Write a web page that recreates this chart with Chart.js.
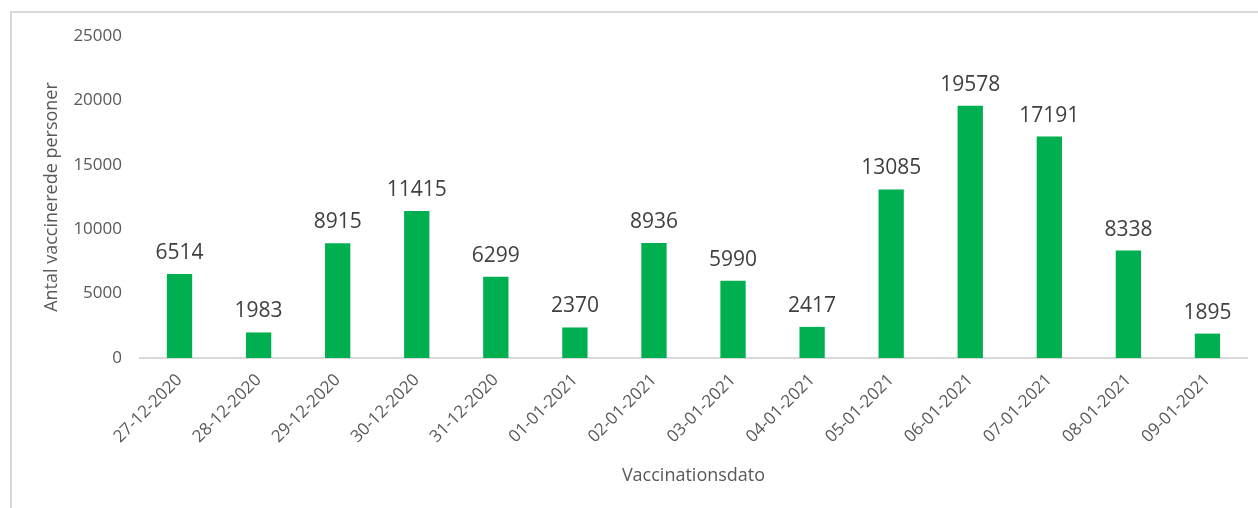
<!DOCTYPE html>
<html>
<head>
<meta charset="utf-8">
<script src="https://cdn.jsdelivr.net/npm/chart.js@4/dist/chart.umd.min.js"></script>
<style>
  html, body { margin: 0; padding: 0; background: #fff; }
  #wrap { width: 1258px; height: 508px; }
</style>
</head>
<body>
<div id="wrap"><canvas id="chart" width="1258" height="508"></canvas></div>
<script>
  const dates = ['27-12-2020', '28-12-2020', '29-12-2020', '30-12-2020', '31-12-2020',
    '01-01-2021', '02-01-2021', '03-01-2021', '04-01-2021', '05-01-2021',
    '06-01-2021', '07-01-2021', '08-01-2021', '09-01-2021'];
  const vaccinated = [6514, 1983, 8915, 11415, 6299, 2370, 8936, 5990, 2417, 13085, 19578, 17191, 8338, 1895];
  const yTicks = [0, 5000, 10000, 15000, 20000, 25000];
  const yTitle = 'Antal vaccinerede personer';
  const xTitle = 'Vaccinationsdato';

  const fontFamily = '"Open Sans", "Liberation Sans", sans-serif';

  // frame lines like the exported figure (left + top only)
  const framePlugin = {
    id: 'frame',
    beforeDraw(chart) {
      const ctx = chart.ctx;
      ctx.save();
      ctx.strokeStyle = '#d9d9d9';
      ctx.lineWidth = 2;
      ctx.beginPath();
      ctx.moveTo(11, 508);
      ctx.lineTo(11, 12);
      ctx.lineTo(1258, 12);
      ctx.stroke();
      ctx.restore();
    }
  };

  // value labels above each bar
  const valueLabels = {
    id: 'valueLabels',
    afterDatasetsDraw(chart) {
      const ctx = chart.ctx;
      const meta = chart.getDatasetMeta(0);
      ctx.save();
      ctx.font = '21px ' + fontFamily;
      ctx.fillStyle = '#404040';
      ctx.textAlign = 'center';
      ctx.textBaseline = 'alphabetic';
      meta.data.forEach((bar, i) => {
        ctx.fillText(String(vaccinated[i]), bar.x, bar.y - 15);
      });
      ctx.restore();
    }
  };

  new Chart(document.getElementById('chart'), {
    type: 'bar',
    data: {
      labels: dates,
      datasets: [{
        data: vaccinated,
        backgroundColor: '#00b050',
        borderWidth: 0,
        categoryPercentage: 1,
        barPercentage: 0.32
      }]
    },
    options: {
      responsive: false,
      animation: false,
      layout: { padding: { left: 38, right: 11, top: 36, bottom: 0 } },
      plugins: { legend: { display: false }, tooltip: { enabled: false } },
      scales: {
        x: {
          grid: { display: false, drawTicks: false },
          border: { display: true, color: '#d9d9d9', width: 2 },
          ticks: {
            color: '#595959',
            font: { family: fontFamily, size: 17 },
            minRotation: 45,
            maxRotation: 45,
            padding: 12,
            autoSkip: false
          },
          title: {
            display: true,
            text: xTitle,
            color: '#595959',
            font: { family: fontFamily, size: 18 },
            padding: { top: 4, bottom: 21 }
          },
          afterFit(scale) { scale.height = 150; }
        },
        y: {
          min: 0,
          max: 25000,
          grid: { display: false, drawTicks: false },
          border: { display: false },
          afterBuildTicks(scale) { scale.ticks = yTicks.map(v => ({ value: v })); },
          ticks: {
            color: '#595959',
            font: { family: fontFamily, size: 17 },
            padding: 18,
            callback: v => String(v)
          },
          title: {
            display: true,
            text: yTitle,
            color: '#595959',
            font: { family: fontFamily, size: 18 },
            padding: { top: 3, bottom: 4 }
          },
          afterFit(scale) { scale.width = 102; }
        }
      }
    },
    plugins: [framePlugin, valueLabels]
  });
</script>
</body>
</html>
